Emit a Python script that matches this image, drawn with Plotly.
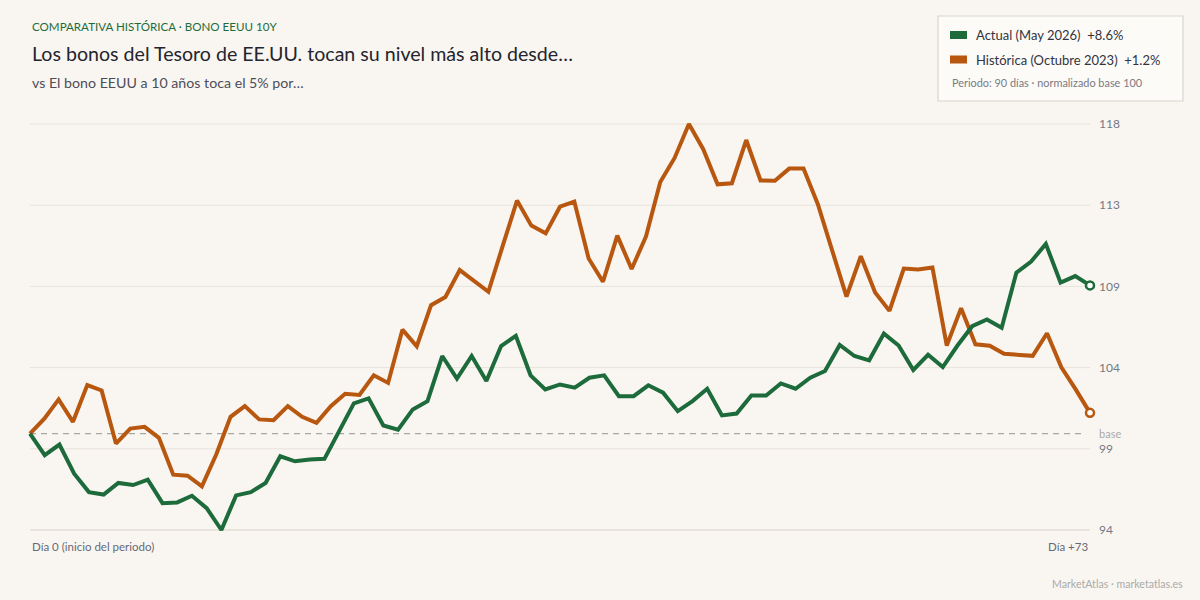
import plotly.graph_objects as go

# ---------------- data (normalised, base 100) ----------------
actual_label = "Actual (May 2026)"
historic_label = "Histórica (Octubre 2023)"

actual_values = [100.0, 98.74, 99.36, 97.67, 96.60, 96.46, 97.13, 97.01, 97.32, 95.96,
                 96.00, 96.39, 95.67, 94.40, 96.41, 96.60, 97.13, 98.68, 98.39, 98.49,
                 98.53, 100.15, 101.75, 102.04, 100.47, 100.23, 101.40, 101.88, 104.50, 103.19,
                 104.50, 103.05, 105.08, 105.67, 103.38, 102.56, 102.85, 102.66, 103.24, 103.38,
                 102.17, 102.17, 102.80, 102.37, 101.30, 101.88, 102.60, 101.05, 101.16, 102.21,
                 102.21, 102.91, 102.60, 103.24, 103.63, 105.14, 104.50, 104.25, 105.80, 105.11,
                 103.69, 104.57, 103.86, 105.11, 106.23, 106.62, 106.14, 109.34, 109.98, 111.01,
                 108.76, 109.14, 108.60]

historic_values = [100.0, 100.86, 101.98, 100.68, 102.81, 102.50, 99.42, 100.29, 100.39, 99.75,
                   97.61, 97.55, 96.93, 98.78, 100.97, 101.59, 100.82, 100.77, 101.59, 100.97,
                   100.62, 101.59, 102.31, 102.24, 103.38, 102.94, 106.03, 105.07, 107.45, 107.93,
                   109.49, 108.85, 108.23, 110.89, 113.53, 112.07, 111.62, 113.17, 113.47, 110.16,
                   108.81, 111.49, 109.55, 111.44, 114.60, 116.00, 117.97, 116.51, 114.47, 114.53,
                   117.04, 114.69, 114.68, 115.38, 115.38, 113.31, 110.62, 107.95, 110.29, 108.19,
                   107.12, 109.58, 109.52, 109.64, 105.11, 107.28, 105.18, 105.10, 104.63, 104.57,
                   104.51, 105.82, 103.84, 102.56, 101.20]

x_start_label = "Día 0 (inicio del periodo)"
x_end_label = "Día +73"
base_value = 100

tag_text = "COMPARATIVA HISTÓRICA · BONO EEUU 10Y"
title_text = "Los bonos del Tesoro de EE.UU. tocan su nivel más alto desde…"
subtitle_text = "vs El bono EEUU a 10 años toca el 5% por…"
note_text = "Periodo: 90 días · normalizado base 100"
footer_text = "MarketAtlas · marketatlas.es"

# ---------------- style ----------------
GREEN = "#1d6b3b"
ORANGE = "#b8570f"
BG = "#f9f6f1"
FONT = "Lato"

W, H = 1200, 600
L, R, T, B = 26, 106, 120, 66
PW, PH = W - L - R, H - T - B


def px(xp):
    return (xp - L) / PW


def py(yp):
    return (H - B - yp) / PH


ymin = min(actual_values + historic_values)
ymax = max(actual_values + historic_values)
k = 406 / (ymax - ymin)          # px per unit
ypad = 4 / k
xpad = 4 / 1060
n_ticks = 6
tickvals = [ymin + i * (ymax - ymin) / (n_ticks - 1) for i in range(n_ticks)]
ticktext = [f"{v:.0f}" for v in tickvals]

xa = [i / (len(actual_values) - 1) for i in range(len(actual_values))]
xh = [i / (len(historic_values) - 1) for i in range(len(historic_values))]

fig = go.Figure()
fig.add_trace(go.Scatter(x=xh, y=historic_values, mode="lines",
                         line=dict(color=ORANGE, width=4), name=historic_label,
                         hoverinfo="skip"))
fig.add_trace(go.Scatter(x=xa, y=actual_values, mode="lines",
                         line=dict(color=GREEN, width=4), name=actual_label,
                         hoverinfo="skip"))
fig.add_trace(go.Scatter(x=[xh[-1]], y=[historic_values[-1]], mode="markers",
                         marker=dict(size=8, color="#ffffff", line=dict(color=ORANGE, width=2.5)),
                         hoverinfo="skip", cliponaxis=False))
fig.add_trace(go.Scatter(x=[xa[-1]], y=[actual_values[-1]], mode="markers",
                         marker=dict(size=8, color="#ffffff", line=dict(color=GREEN, width=2.5)),
                         hoverinfo="skip", cliponaxis=False))

shapes = []
for i, tv in enumerate(tickvals):
    shapes.append(dict(type="line", xref="x", yref="y", x0=0, x1=1, y0=tv, y1=tv,
                       line=dict(color="#d8d2c8" if i == 0 else "#e7e2da", width=1.2 if i == 0 else 1),
                       layer="below"))
shapes.append(dict(type="line", xref="x", yref="y", x0=0, x1=0.995, y0=base_value, y1=base_value,
                   line=dict(color="#a8a6a2", width=1.2, dash="6px,5px"), layer="below"))
# legend box
shapes.append(dict(type="rect", xref="paper", yref="paper", x0=px(938), x1=px(1183),
                   y0=py(101), y1=py(16), fillcolor="#fcfbf8", line=dict(color="#dad5cc", width=1.2)))
shapes.append(dict(type="rect", xref="paper", yref="paper", x0=px(950), x1=px(967),
                   y0=py(39), y1=py(31), fillcolor=GREEN, line=dict(width=0)))
shapes.append(dict(type="rect", xref="paper", yref="paper", x0=px(950), x1=px(967),
                   y0=py(63.5), y1=py(55.5), fillcolor=ORANGE, line=dict(width=0)))


def pct(vals):
    return (vals[-1] / vals[0] - 1) * 100


ann = []


def text(x, y, s, size, color, anchor="left"):
    ann.append(dict(xref="paper", yref="paper", x=px(x), y=py(y), text=s, showarrow=False,
                    xanchor=anchor, yanchor="middle",
                    font=dict(family=FONT, size=size, color=color)))


text(30, 26, tag_text, 11.6, "#1e6b3a")
text(30, 54, title_text, 19.6, "#24242e")
text(30, 82, subtitle_text, 14.2, "#4d4d58")
text(974, 35, f"{actual_label}\u00a0 {pct(actual_values):+.1f}%", 13, "#33333d")
text(974, 59.5, f"{historic_label}\u00a0 {pct(historic_values):+.1f}%", 13, "#33333d")
text(950, 82, note_text, 10.9, "#7a7a84")
text(30, 546, x_start_label, 11.5, "#666a76")
text(1090, 546, x_end_label, 11.5, "#666a76", anchor="right")
text(1185, 584, footer_text, 10.6, "#aaaaaa", anchor="right")
ann.append(dict(xref="paper", yref="y", x=px(1097), y=base_value, text="base", showarrow=False,
                xanchor="left", yanchor="middle", font=dict(family=FONT, size=11, color="#a9a9a9")))

fig.update_layout(
    width=W, height=H,
    margin=dict(l=L, r=R, t=T, b=B, pad=0),
    paper_bgcolor=BG, plot_bgcolor=BG,
    showlegend=False,
    shapes=shapes,
    annotations=ann,
    xaxis=dict(range=[-xpad, 1 + xpad], showgrid=False, zeroline=False, showline=False,
               showticklabels=False, ticks="", fixedrange=True),
    yaxis=dict(range=[ymin - ypad, ymax + ypad], side="right", tickvals=tickvals, ticktext=ticktext,
               showgrid=False, zeroline=False, showline=False, ticks="",
               tickfont=dict(family=FONT, size=12, color="#767884"), ticklabelstandoff=4,
               fixedrange=True),
    font=dict(family=FONT),
)

fig.write_html("out.html", config={"displayModeBar": False})
